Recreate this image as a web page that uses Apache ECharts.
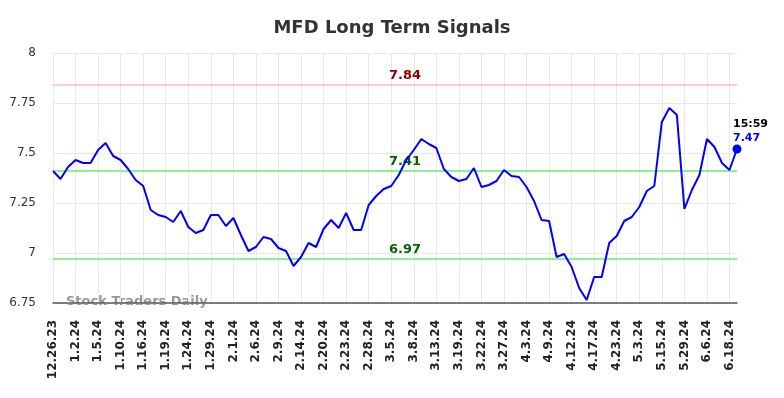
<!DOCTYPE html>
<html>
<head>
<meta charset="utf-8">
<script src="https://cdn.jsdelivr.net/npm/echarts@6/dist/echarts.min.js"></script>
<style>
  html, body { margin: 0; padding: 0; background: #fff; }
  #main { width: 784px; height: 398px; }
</style>
</head>
<body>
<div id="main"></div>
<script>
const dates = [
  '12.26.23', '12.27.23', '12.28.23', '1.2.24', '1.3.24', '1.4.24', '1.5.24', '1.8.24', '1.9.24', '1.10.24',
  '1.11.24', '1.12.24', '1.16.24', '1.17.24', '1.18.24', '1.19.24', '1.22.24', '1.23.24', '1.24.24', '1.25.24',
  '1.26.24', '1.29.24', '1.30.24', '1.31.24', '2.1.24', '2.2.24', '2.5.24', '2.6.24', '2.7.24', '2.8.24',
  '2.9.24', '2.12.24', '2.13.24', '2.14.24', '2.15.24', '2.16.24', '2.20.24', '2.21.24', '2.22.24', '2.23.24',
  '2.26.24', '2.27.24', '2.28.24', '2.29.24', '3.1.24', '3.5.24', '3.6.24', '3.7.24', '3.8.24', '3.11.24',
  '3.12.24', '3.13.24', '3.14.24', '3.15.24', '3.19.24', '3.20.24', '3.21.24', '3.22.24', '3.25.24', '3.26.24',
  '3.27.24', '3.28.24', '4.1.24', '4.3.24', '4.4.24', '4.5.24', '4.9.24', '4.10.24', '4.11.24', '4.12.24',
  '4.15.24', '4.16.24', '4.17.24', '4.18.24', '4.19.24', '4.23.24', '4.24.24', '4.25.24', '5.3.24', '5.6.24',
  '5.7.24', '5.15.24', '5.16.24', '5.17.24', '5.29.24', '5.30.24', '5.31.24', '6.6.24', '6.7.24', '6.10.24',
  '6.18.24', '6.20.24'
];

const prices = [
  7.41, 7.37, 7.43, 7.465, 7.45, 7.45, 7.515, 7.55, 7.485, 7.465,
  7.42, 7.365, 7.335, 7.215, 7.19, 7.18, 7.155, 7.21, 7.13, 7.10,
  7.115, 7.19, 7.19, 7.135, 7.175, 7.09, 7.01, 7.03, 7.08, 7.07,
  7.025, 7.01, 6.935, 6.98, 7.05, 7.03, 7.12, 7.165, 7.125, 7.20,
  7.115, 7.115, 7.24, 7.285, 7.32, 7.335, 7.39, 7.465, 7.515, 7.57,
  7.545, 7.525, 7.42, 7.38, 7.36, 7.37, 7.425, 7.33, 7.34, 7.36,
  7.415, 7.385, 7.38, 7.33, 7.26, 7.165, 7.16, 6.98, 6.995, 6.93,
  6.825, 6.765, 6.88, 6.88, 7.05, 7.085, 7.16, 7.18, 7.23, 7.31,
  7.335, 7.655, 7.725, 7.69, 7.22, 7.315, 7.39, 7.57, 7.53, 7.45,
  7.415, 7.52
];

const resistance = 7.84;
const signalLines = [7.41, 6.97];
const lastTime = '15:59';
const lastPriceText = '7.47';

const lastIdx = prices.length - 1;
const lastPoint = prices.map((v, i) => (i === lastIdx ? v : '-'));

const chart = echarts.init(document.getElementById('main'));

const option = {
  animation: false,
  title: {
    text: 'MFD Long Term Signals',
    left: 'center',
    top: 14,
    textStyle: { fontSize: 18, fontWeight: 'bold', color: '#333', fontFamily: 'DejaVu Sans' }
  },
  graphic: [
    {
      type: 'text',
      left: 66,
      top: 295,
      style: { text: 'Stock Traders Daily', fill: '#999', font: 'bold 13px DejaVu Sans' }
    }
  ],
  grid: { left: 53, right: 47, top: 53, bottom: 95 },
  xAxis: {
    type: 'category',
    data: dates,
    boundaryGap: false,
    axisLine: { lineStyle: { color: '#555', width: 1.5 } },
    axisTick: { show: false },
    axisLabel: {
      interval: 2,
      rotate: 90,
      margin: 17,
      color: '#222',
      fontSize: 12,
      fontWeight: 'bold',
      fontFamily: 'DejaVu Sans'
    },
    splitLine: { show: true, interval: 2, lineStyle: { color: '#e8e8e8' } }
  },
  yAxis: {
    type: 'value',
    min: 6.75,
    max: 8,
    interval: 0.25,
    axisLine: { show: false },
    axisTick: { show: false },
    axisLabel: { color: '#333', fontSize: 12, margin: 17, fontFamily: 'DejaVu Sans' },
    splitLine: { lineStyle: { color: '#e8e8e8' } }
  },
  series: [
    {
      type: 'line',
      data: prices,
      showSymbol: false,
      lineStyle: { color: '#0000ff', width: 2 },
      itemStyle: { color: '#0000ff' },
      z: 3,
      markLine: {
        silent: true,
        symbol: 'none',
        data: [
          {
            yAxis: resistance,
            lineStyle: { color: '#ffcccc', width: 2, type: 'solid' },
            label: { position: 'middle', color: '#8b0000', formatter: String(resistance) }
          }
        ].concat(signalLines.map(v => ({
          yAxis: v,
          lineStyle: { color: '#90ee90', width: 2, type: 'solid' },
          label: { position: 'middle', color: '#006400', formatter: v.toFixed(2) }
        }))),
        label: { fontSize: 13, fontWeight: 'bold', fontFamily: 'DejaVu Sans', distance: 3, offset: [10, 0] },
        z: 1
      }
    },
    {
      type: 'scatter',
      data: lastPoint,
      symbol: 'circle',
      symbolSize: 9,
      itemStyle: { color: '#0000ff', opacity: 1 },
      z: 4,
      label: {
        show: true,
        position: 'top',
        align: 'left',
        offset: [-4, 6],
        opacity: 1,
        formatter: '{t|' + lastTime + '}\n{v|' + lastPriceText + '}',
        rich: {
          t: { fontSize: 11, fontWeight: 'bold', color: '#000', fontFamily: 'DejaVu Sans', lineHeight: 14, align: 'left' },
          v: { fontSize: 11, fontWeight: 'bold', color: '#0000ff', fontFamily: 'DejaVu Sans', lineHeight: 14, align: 'left' }
        }
      }
    }
  ]
};

chart.setOption(option);
</script>
</body>
</html>
